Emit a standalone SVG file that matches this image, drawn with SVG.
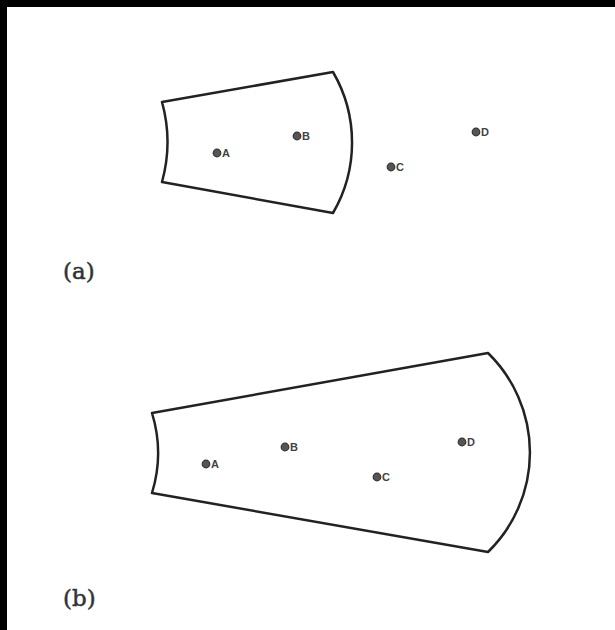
<svg xmlns="http://www.w3.org/2000/svg" width="615" height="630" viewBox="0 0 615 630">
<style>
.shape{fill:#fff;stroke:#222;stroke-width:2.5;stroke-linejoin:round}
.dot{fill:#555;stroke:#333;stroke-width:1.2}
.lbl{font-family:"Liberation Sans",Arial,sans-serif;font-size:11px;font-weight:bold;fill:#444}
.cap{font-family:"DejaVu Serif","Liberation Serif",serif;font-size:23px;fill:#333;stroke:#333;stroke-width:0.5}
</style>
<rect x="0" y="0" width="615" height="630" fill="#000"/>
<rect x="7" y="7" width="608" height="623" fill="#fff"/>
<g id="shape-a"><path class="shape" d="M162,102 L333,72 A140,140 0 0 1 333,213 L162,182 A150,150 0 0 0 162,102 Z"/></g>
<g id="a-A"><circle class="dot" cx="217" cy="153" r="3.8"/><text class="lbl" x="222" y="157">A</text></g>
<g id="a-B"><circle class="dot" cx="297" cy="136" r="3.8"/><text class="lbl" x="302" y="140">B</text></g>
<g id="a-C"><circle class="dot" cx="391" cy="167" r="3.8"/><text class="lbl" x="396" y="171">C</text></g>
<g id="a-D"><circle class="dot" cx="476" cy="132" r="3.8"/><text class="lbl" x="481" y="136">D</text></g>
<text class="cap" x="63" y="279">(a)</text>
<g id="shape-b"><path class="shape" d="M152,413 L488,353 A139,139 0 0 1 488,552 L152,493 A136,136 0 0 0 152,413 Z"/></g>
<g id="b-A"><circle class="dot" cx="206" cy="464" r="3.8"/><text class="lbl" x="211" y="468">A</text></g>
<g id="b-B"><circle class="dot" cx="285" cy="447" r="3.8"/><text class="lbl" x="290" y="451">B</text></g>
<g id="b-C"><circle class="dot" cx="377" cy="477" r="3.8"/><text class="lbl" x="382" y="481">C</text></g>
<g id="b-D"><circle class="dot" cx="462" cy="442" r="3.8"/><text class="lbl" x="467" y="446">D</text></g>
<text class="cap" x="63" y="606">(b)</text>
<g id="connectors"/>
</svg>
